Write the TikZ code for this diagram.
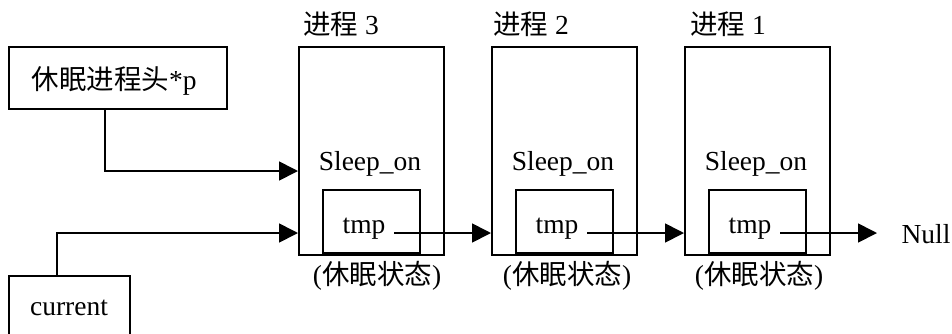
\documentclass[tikz,border=0pt]{standalone}
\usepackage{fontspec}
\setmainfont{Liberation Serif}
\newfontfamily\cjk{Noto Sans CJK SC}
\usetikzlibrary{arrows.meta}
\begin{document}
\begin{tikzpicture}[x=1pt,y=-1pt,line width=1.7pt,
  txt/.style={inner sep=0pt,anchor=base,font=\fontsize{27.5}{30}\selectfont},
  procbox/.style={draw,minimum width=145pt,minimum height=208pt,inner sep=0pt,anchor=north west},
  tmpbox/.style={draw,minimum width=97pt,minimum height=63pt,inner sep=0pt,anchor=south west},
  outbox/.style={draw,minimum width=#1,inner sep=0pt,anchor=north west},
  arr/.style={-{Triangle[length=19pt,width=19pt]}}]
\useasboundingbox (0,0) rectangle (952,333);
\clip (0,0) rectangle (952,333);
% left boxes
\node[outbox=218pt,minimum height=62pt] (head) at (8,46) {};
\node[outbox=121pt,minimum height=70pt] (cur) at (8,275) {};
\node[txt] (headt) at (114,89) {{\cjk 休眠进程头}*p};
\node[txt] (curt) at (69,315) {current};
% process boxes
\node[procbox] (p3) at (298,46) {};
\node[procbox] (p2) at (491,46) {};
\node[procbox] (p1) at (684,46) {};
\node[tmpbox] (b3) at (322,254) {};
\node[tmpbox] (b2) at (515,254) {};
\node[tmpbox] (b1) at (708,254) {};
% labels
\node[txt] (l3) at (341,34) {{\cjk 进程} 3};
\node[txt] (l2) at (531,34) {{\cjk 进程} 2};
\node[txt] (l1) at (728,34) {{\cjk 进程} 1};
\node[txt] (s3) at (370,170) {Sleep\_on};
\node[txt] (s2) at (563,170) {Sleep\_on};
\node[txt] (s1) at (756,170) {Sleep\_on};
\node[txt] (t3) at (364,233) {tmp};
\node[txt] (t2) at (557,233) {tmp};
\node[txt] (t1) at (750,233) {tmp};
\node[txt] (z3) at (377,284) {({\cjk 休眠状态})};
\node[txt] (z2) at (567,284) {({\cjk 休眠状态})};
\node[txt] (z1) at (759,284) {({\cjk 休眠状态})};
\node[txt] (null) at (926,243) {Null};
% connectors
\coordinate (h0) at (105,108);
\coordinate (c0) at (57,275);
\coordinate (a3) at (394,233);
\coordinate (a2) at (587,233);
\coordinate (a1) at (780,233);
\coordinate (e1) at (877,233);
\coordinate (in3a) at (298,171);
\coordinate (in3b) at (298,233);
\coordinate (in2) at (491,233);
\coordinate (in1) at (684,233);
\draw[arr] (h0) |- (in3a);
\draw[arr] (c0) |- (in3b);
\draw[arr] (a3) -- (in2);
\draw[arr] (a2) -- (in1);
\draw[arr] (a1) -- (e1);
\end{tikzpicture}
\end{document}
